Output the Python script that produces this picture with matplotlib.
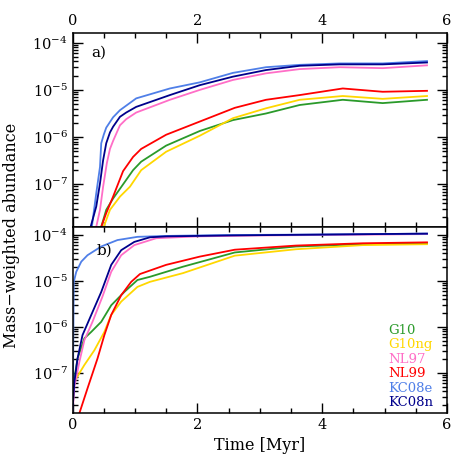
import numpy as np
import matplotlib
matplotlib.use("Agg")
import matplotlib.pyplot as plt
from matplotlib.ticker import MultipleLocator, LogLocator, NullFormatter

plt.rcParams['font.family'] = ['DejaVu Serif']
plt.rcParams['mathtext.fontset'] = 'dejavuserif'

names = ["G10", "G10ng", "NL97", "NL99", "KC08e", "KC08n"]
colors = ["#2a9a2a", "#ffd700", "#ff6ec7", "#ff0000", "#4f7fe8", "#00008b"]

# panel a) -- time [Myr], log10 abundance
a_t = {
    "G10":   [0.46, 0.54, 0.65, 0.81, 0.97, 1.10, 1.50, 2.04, 2.57, 3.10, 3.64, 4.33, 4.97, 5.68],
    "G10ng": [0.50, 0.60, 0.76, 0.92, 1.10, 1.50, 2.04, 2.57, 3.10, 3.64, 4.33, 4.97, 5.68],
    "NL97":  [0.38, 0.44, 0.49, 0.55, 0.60, 0.65, 0.76, 0.86, 1.02, 1.56, 2.04, 2.57, 3.10, 3.64, 4.28, 4.97, 5.68],
    "NL99":  [0.46, 0.54, 0.65, 0.81, 0.97, 1.10, 1.50, 2.04, 2.60, 3.10, 3.64, 4.33, 4.97, 5.68],
    "KC08e": [0.31, 0.33, 0.38, 0.44, 0.46, 0.50, 0.54, 0.65, 0.76, 1.02, 1.56, 2.04, 2.57, 3.10, 3.64, 4.28, 4.97, 5.68],
    "KC08n": [0.29, 0.38, 0.44, 0.49, 0.54, 0.60, 0.65, 0.76, 0.86, 1.02, 1.56, 2.04, 2.57, 3.10, 3.64, 4.28, 4.97, 5.68],
}
a_logx = {
    "G10":   [-7.90, -7.54, -7.30, -7.00, -6.70, -6.52, -6.18, -5.87, -5.64, -5.50, -5.32, -5.21, -5.28, -5.21],
    "G10ng": [-7.90, -7.54, -7.26, -7.05, -6.70, -6.31, -5.97, -5.60, -5.39, -5.21, -5.13, -5.19, -5.13],
    "NL97":  [-7.90, -7.54, -7.05, -6.55, -6.25, -6.08, -5.75, -5.62, -5.48, -5.21, -5.00, -4.79, -4.65, -4.56, -4.52, -4.54, -4.48],
    "NL99":  [-7.90, -7.61, -7.26, -6.72, -6.42, -6.25, -5.95, -5.67, -5.38, -5.21, -5.11, -4.97, -5.04, -5.02],
    "KC08e": [-7.90, -7.69, -7.19, -6.63, -6.13, -5.95, -5.80, -5.58, -5.43, -5.18, -4.97, -4.84, -4.64, -4.52, -4.47, -4.44, -4.44, -4.39],
    "KC08n": [-7.90, -7.47, -6.98, -6.49, -6.13, -5.90, -5.78, -5.57, -5.48, -5.36, -5.11, -4.90, -4.72, -4.58, -4.49, -4.46, -4.46, -4.42],
}

# panel b)
b_t = {
    "G10":   [0.00, 0.01, 0.03, 0.08, 0.19, 0.30, 0.46, 0.62, 0.83, 1.04, 1.24, 1.77, 2.60, 3.58, 4.65, 5.68],
    "G10ng": [0.00, 0.01, 0.02, 0.06, 0.19, 0.35, 0.51, 0.62, 0.78, 1.04, 1.24, 1.77, 2.60, 3.58, 4.65, 5.68],
    "NL97":  [0.00, 0.01, 0.03, 0.11, 0.19, 0.32, 0.48, 0.62, 0.78, 0.99, 1.34, 2.00, 3.00, 4.00, 5.68],
    "NL99":  [0.11, 0.24, 0.40, 0.51, 0.62, 0.78, 0.94, 1.08, 1.50, 2.04, 2.60, 3.58, 4.65, 5.68],
    "KC08e": [0.00, 0.01, 0.016, 0.02, 0.06, 0.14, 0.24, 0.46, 0.72, 1.04, 1.50, 2.50, 4.00, 5.68],
    "KC08n": [0.00, 0.01, 0.03, 0.08, 0.16, 0.30, 0.46, 0.62, 0.78, 0.99, 1.24, 1.50, 2.50, 4.00, 5.68],
}
b_logx = {
    "G10":   [-7.88, -7.60, -7.12, -6.69, -6.25, -6.11, -5.89, -5.53, -5.24, -4.98, -4.91, -4.69, -4.38, -4.25, -4.20, -4.18],
    "G10ng": [-7.88, -7.50, -7.20, -7.12, -6.83, -6.51, -6.11, -5.74, -5.45, -5.13, -5.02, -4.83, -4.45, -4.31, -4.22, -4.20],
    "NL97":  [-7.88, -7.70, -7.30, -6.76, -6.29, -5.89, -5.34, -4.80, -4.44, -4.22, -4.07, -4.03, -4.01, -4.00, -3.98],
    "NL99":  [-7.88, -7.34, -6.69, -6.18, -5.74, -5.31, -5.02, -4.85, -4.65, -4.47, -4.32, -4.23, -4.18, -4.16],
    "KC08e": [-7.88, -6.80, -5.60, -5.02, -4.80, -4.58, -4.44, -4.25, -4.11, -4.04, -4.02, -4.00, -3.99, -3.97],
    "KC08n": [-7.88, -7.60, -7.20, -6.69, -6.18, -5.74, -5.24, -4.65, -4.33, -4.15, -4.05, -4.03, -4.01, -3.99, -3.97],
}

fig = plt.figure(figsize=(4.71, 4.71), dpi=100)
ax_a = fig.add_axes([0.154, 0.519, 0.795, 0.411])
ax_b = fig.add_axes([0.154, 0.123, 0.795, 0.395])

for ax, tt, yy in [(ax_a, a_t, a_logx), (ax_b, b_t, b_logx)]:
    for name, c in zip(names, colors):
        ax.plot(tt[name], np.power(10.0, yy[name]), color=c, lw=1.3)
    ax.set_yscale("log")
    ax.set_xlim(0, 6)
    ax.xaxis.set_major_locator(MultipleLocator(2))
    ax.xaxis.set_minor_locator(MultipleLocator(0.5))
    ax.yaxis.set_major_locator(LogLocator(base=10, numticks=10))
    ax.yaxis.set_minor_locator(LogLocator(base=10, subs=np.arange(2, 10), numticks=10))
    ax.yaxis.set_minor_formatter(NullFormatter())
    ax.tick_params(which="both", direction="in", top=True, right=True, labelsize=10.5)
    ax.tick_params(which="major", length=7, width=1)
    ax.tick_params(which="minor", length=3.5, width=1)
    for s in ax.spines.values():
        s.set_linewidth(1.1)

ax_a.set_ylim(10 ** -7.894, 10 ** -3.795)
ax_b.set_ylim(10 ** -7.878, 10 ** -3.826)
ax_a.tick_params(labelbottom=False, labeltop=True)

ax_a.text(0.05, 0.90, "a)", transform=ax_a.transAxes, fontsize=11, va="center")
ax_b.text(0.065, 0.875, "b)", transform=ax_b.transAxes, fontsize=11, va="center")

for i, (name, c) in enumerate(zip(names, colors)):
    ax_b.text(0.843, 0.446 - i * 0.078, name, color=c, transform=ax_b.transAxes,
              fontsize=9.5, va="center")

ax_b.set_xlabel("Time [Myr]", fontsize=11.5)
fig.text(0.025, 0.5, "Mass\u2212weighted abundance", rotation=90, fontsize=11.5,
         va="center", ha="center")

fig.savefig("out.png", dpi=100)
